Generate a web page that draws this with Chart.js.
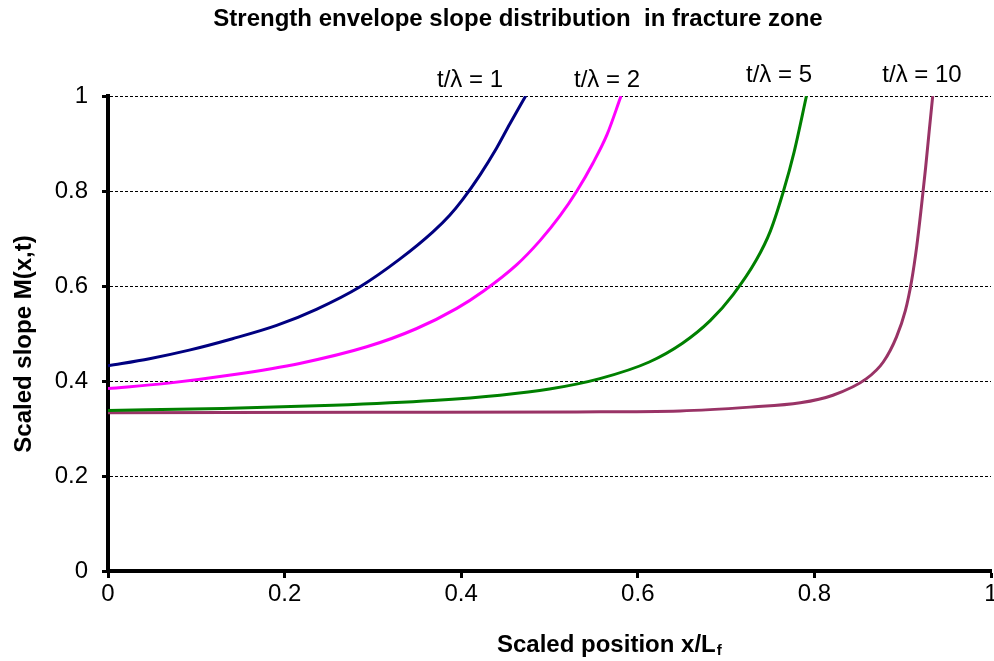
<!DOCTYPE html>
<html>
<head>
<meta charset="utf-8">
<title>Strength envelope slope distribution</title>
<script src="https://cdn.jsdelivr.net/npm/chart.js@4/dist/chart.umd.min.js"></script>
<style>
  body { margin: 0; background: #fff; }
  canvas { display: block; }
</style>
</head>
<body>
<canvas id="chart" width="994" height="661"></canvas>
<script>
// valores (posicion escalada x/Lf -> pendiente M(x,t))
const xT1 = [0, 0.047, 0.092, 0.141, 0.191, 0.236, 0.285, 0.330, 0.368, 0.387, 0.402, 0.421, 0.440, 0.455, 0.473];
const mT1 = [0.432, 0.447, 0.465, 0.489, 0.517, 0.551, 0.598, 0.656, 0.714, 0.749, 0.783, 0.833, 0.890, 0.941, 1.0];

const xT2 = [0, 0.066, 0.141, 0.217, 0.293, 0.349, 0.395, 0.425, 0.463, 0.489, 0.512, 0.531, 0.549, 0.565, 0.581];
const mT2 = [0.384, 0.395, 0.413, 0.437, 0.472, 0.510, 0.553, 0.589, 0.645, 0.695, 0.748, 0.800, 0.858, 0.918, 1.0];

const xT5 = [0, 0.130, 0.255, 0.368, 0.444, 0.500, 0.557, 0.613, 0.651, 0.682, 0.708, 0.734, 0.750, 0.765, 0.777, 0.791];
const mT5 = [0.338, 0.342, 0.349, 0.359, 0.370, 0.383, 0.405, 0.440, 0.480, 0.527, 0.582, 0.654, 0.715, 0.800, 0.882, 1.0];

const xT10 = [0, 0.300, 0.531, 0.648, 0.727, 0.784, 0.821, 0.859, 0.878, 0.893, 0.903, 0.910, 0.916, 0.921, 0.926, 0.930, 0.934];
const mT10 = [0.333, 0.334, 0.335, 0.337, 0.345, 0.354, 0.370, 0.405, 0.440, 0.493, 0.548, 0.610, 0.685, 0.764, 0.850, 0.926, 1.0];

const seriesNames = ["t/λ = 1", "t/λ = 2", "t/λ = 5", "t/λ = 10"];
const seriesColors = ["#000080", "#ff00ff", "#008000", "#993366"];
const axisTicks = [0, 0.2, 0.4, 0.6, 0.8, 1];

const FONT = "'Liberation Sans', Arial, sans-serif";

function toPoints(xs, ys) {
  return xs.map((x, i) => ({ x: x, y: ys[i] }));
}

const allSeries = [[xT1, mT1], [xT2, mT2], [xT5, mT5], [xT10, mT10]];

const datasets = allSeries.map((s, i) => ({
  label: seriesNames[i],
  data: toPoints(s[0], s[1]),
  borderColor: seriesColors[i],
  borderWidth: 3,
  pointRadius: 0,
  cubicInterpolationMode: "monotone",
  fill: false
}));

// textos: titulo, ejes y etiquetas de curvas
const textPlugin = {
  id: "texts",
  afterDraw(chart) {
    const ctx = chart.ctx;
    ctx.save();
    ctx.fillStyle = "#000";
    ctx.textBaseline = "alphabetic";

    ctx.font = "bold 24px " + FONT;
    ctx.textAlign = "center";
    ctx.fillText("Strength envelope slope distribution  in fracture zone", 518, 26);

    // titulo eje x con subindice
    ctx.textAlign = "left";
    const main = "Scaled position x/L";
    ctx.fillText(main, 497, 652);
    const w = ctx.measureText(main).width;
    ctx.font = "bold 15px " + FONT;
    ctx.fillText("f", 497 + w + 1, 655);

    // titulo eje y
    ctx.font = "bold 24px " + FONT;
    ctx.save();
    ctx.translate(31, 344);
    ctx.rotate(-Math.PI / 2);
    ctx.textAlign = "center";
    ctx.fillText("Scaled slope M(x,t)", 0, 0);
    ctx.restore();

    // etiquetas de cada curva
    ctx.font = "24px " + FONT;
    ctx.textAlign = "center";
    const labelX = [470, 607, 779, 922];
    const labelY = [87, 87, 82, 82];
    seriesNames.forEach((name, i) => {
      ctx.fillText(name, labelX[i], labelY[i]);
    });
    ctx.restore();
  }
};

const fmt = v => String(+Number(v).toFixed(1));

new Chart(document.getElementById("chart"), {
  type: "line",
  data: { datasets: datasets },
  options: {
    responsive: false,
    animation: false,
    layout: { padding: { top: 96, right: 3, left: 0, bottom: 0 } },
    plugins: {
      legend: { display: false },
      tooltip: { enabled: false }
    },
    scales: {
      x: {
        type: "linear",
        min: 0,
        max: 1,
        afterBuildTicks: scale => { scale.ticks = axisTicks.map(v => ({ value: v })); },
        afterFit: scale => {
          scale.height = 90;
          scale.paddingLeft = 0;
          scale.paddingRight = 0;
        },
        ticks: {
          callback: fmt,
          color: "#000",
          padding: 2,
          maxRotation: 0,
          font: { family: FONT, size: 24 }
        },
        grid: {
          drawOnChartArea: false,
          tickLength: 7,
          tickWidth: 3,
          tickColor: "#000"
        },
        border: { color: "#000", width: 4 }
      },
      y: {
        min: 0,
        max: 1,
        afterBuildTicks: scale => { scale.ticks = axisTicks.map(v => ({ value: v })); },
        afterFit: scale => {
          scale.width = 108;
          scale.paddingTop = 0;
          scale.paddingBottom = 0;
        },
        ticks: {
          callback: fmt,
          color: "#000",
          padding: 14,
          font: { family: FONT, size: 24 }
        },
        grid: {
          color: c => (c.tick && c.tick.value === 0 ? "rgba(0,0,0,0)" : "#000"),
          lineWidth: 1,
          tickLength: 6,
          tickWidth: 3,
          tickColor: "#000"
        },
        border: { color: "#000", width: 4, dash: [3, 2] }
      }
    }
  },
  plugins: [textPlugin]
});
</script>
</body>
</html>
